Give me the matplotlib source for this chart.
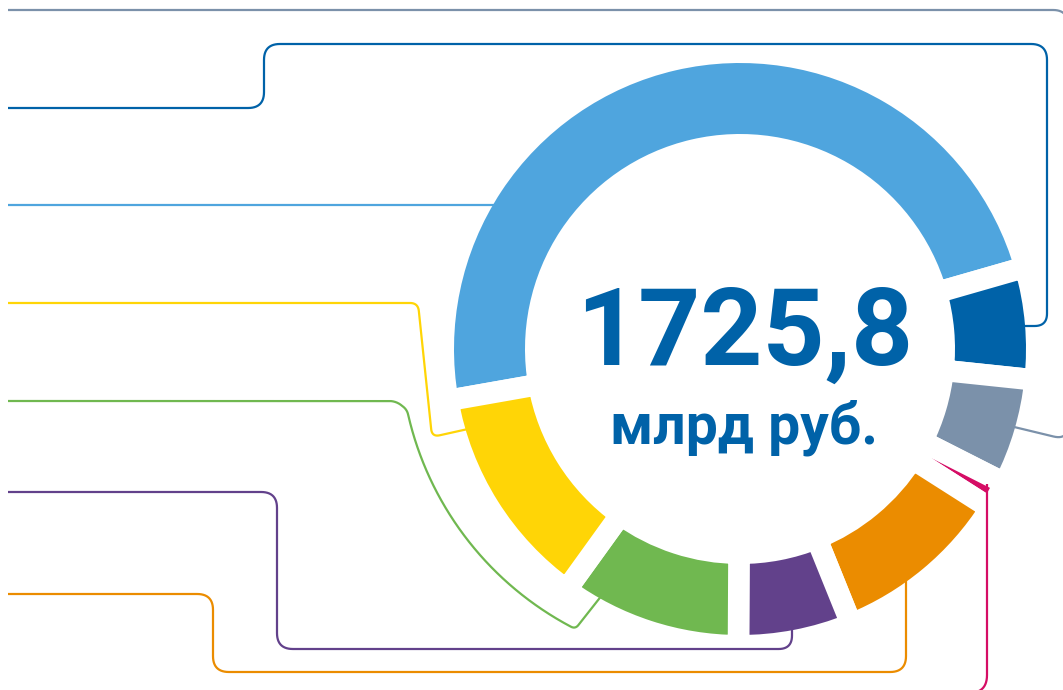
import numpy as np
import matplotlib.pyplot as plt

W, H = 1063, 690

# --- данные: структура, млрд руб. ---
total_label = "1725,8"
unit_label = "млрд руб."
values = [834.1, 105.5, 100.2, 26.8, 170.2, 106.9, 170.2, 211.9]
colors = ["#4FA5DE", "#0062A8", "#7B91AA", "#D50D65",
          "#EB8C00", "#62418B", "#70B850", "#FFD506"]

# геометрия кольца (в пикселях картинки)
cx, cy = 740, 349
r_out, r_in = 286, 215
gap = 21.5  # px
px2pt = 72 / 100


def rounded(pts, r, n=14):
    pts = [np.array(p, dtype=float) for p in pts]
    out = [pts[0]]
    for i in range(1, len(pts) - 1):
        p0, p1, p2 = pts[i - 1], pts[i], pts[i + 1]
        d1, d2 = p0 - p1, p2 - p1
        l1, l2 = np.hypot(*d1), np.hypot(*d2)
        c = min(r, l1 / 2, l2 / 2)
        a = p1 + d1 / l1 * c
        b = p1 + d2 / l2 * c
        t = np.linspace(0, 1, n)[:, None]
        out.extend((1 - t) ** 2 * a + 2 * (1 - t) * t * p1 + t ** 2 * b)
    out.append(pts[-1])
    return np.array(out)


fig = plt.figure(figsize=(W / 100, H / 100), dpi=100)
ax = fig.add_axes([0, 0, 1, 1])

# --- кольцо ---
ax.pie(values, colors=colors, startangle=170, counterclock=True,
       center=(cx, cy), radius=r_out + gap / 2,
       wedgeprops=dict(width=r_out - r_in + gap, edgecolor="white",
                       linewidth=gap * px2pt),
       frame=True)

# --- выноски ---
lw = 1.6
arc_t = np.radians(np.linspace(168, 117, 30))
green_arc = [(721 + 321 * np.cos(a), 343 + 321 * np.sin(a)) for a in arc_t]

leaders = [
    ("#7B91AA", [(8, 10), (1068, 10), (1068, 440), (1010, 426)], 15),
    ("#0062A8", [(8, 108), (264, 108), (264, 44), (1047, 44),
                 (1047, 326), (1022, 326)], 16),
    ("#4FA5DE", [(8, 205), (502, 205)], 0),
    ("#FFD506", [(8, 303), (418, 303), (432, 437), (468, 429)], 8),
    ("#70B850", [(8, 401), (396, 401)] + green_arc + [(606, 590)], 8),
    ("#62418B", [(8, 492), (277, 492), (277, 649), (792, 649), (792, 622)], 16),
    ("#EB8C00", [(8, 594), (213, 594), (213, 672), (906, 672), (906, 575)], 16),
    ("#D50D65", [(987, 484), (987, 693), (8, 693)], 18),
]
for col, pts, rad in leaders:
    path = rounded(pts, rad)
    ax.plot(path[:, 0], path[:, 1], color=col, lw=lw, zorder=3,
            solid_capstyle="butt")

# --- подпись в центре ---
ax.text(745, 365, total_label, ha="center", va="baseline", fontsize=78,
        fontweight="bold", color="#0062A8", family="Roboto", zorder=4)
ax.text(744, 443, unit_label, ha="center", va="baseline", fontsize=41,
        fontweight="bold", color="#0062A8", family="Roboto", zorder=4)

ax.set_xlim(0, W)
ax.set_ylim(H, 0)
ax.set_aspect("equal")
ax.axis("off")
fig.savefig("out.png", dpi=100, facecolor="white")
